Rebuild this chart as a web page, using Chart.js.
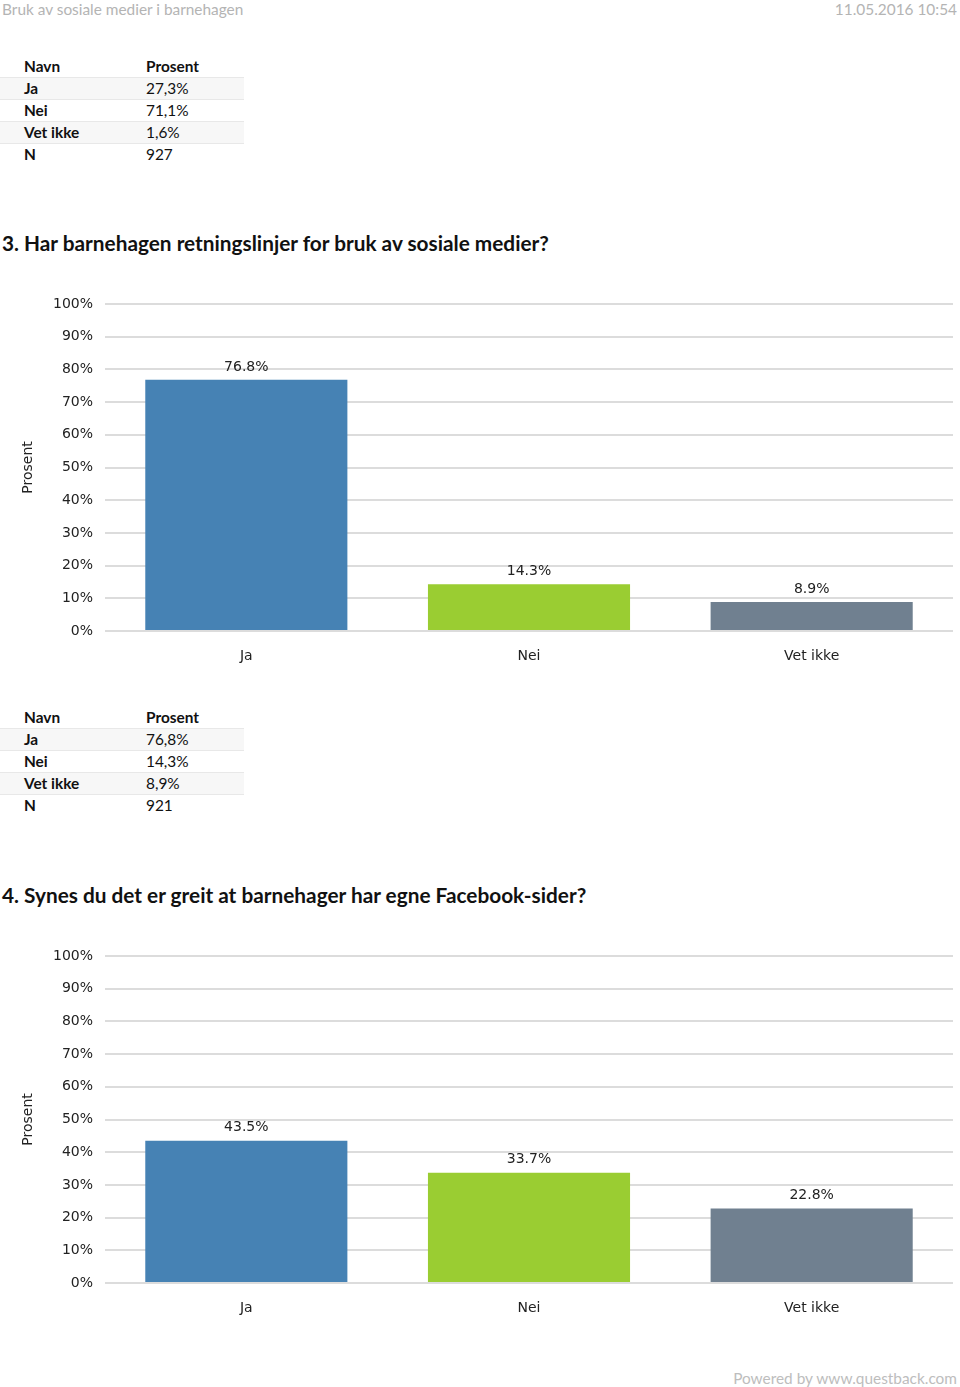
<!DOCTYPE html>
<html>
<head>
<meta charset="utf-8">
<script src="https://cdn.jsdelivr.net/npm/chart.js@4.4.1/dist/chart.umd.min.js"></script>
<style>
  html, body { margin: 0; padding: 0; background: #fff; }
  body { width: 960px; height: 1387px; position: relative; overflow: hidden; font-family: Lato, "Open Sans", sans-serif; }
  .top { position: absolute; top: 0; font-size: 15.4px; color: #b4b4b4; line-height: 18px; }
  .foot { position: absolute; top: 1369px; right: 3px; font-size: 15.4px; color: #bdbdbd; }
  table { position: absolute; left: 0; width: 244px; border-collapse: collapse; font-size: 15.4px; color: #111; }
  td { height: 21px; padding: 0; line-height: 21px; }
  td:first-child { padding-left: 24px; width: 122px; font-weight: bold; }
  tr.g td { background: #f7f7f7; }
  tr.b td { border-top: 1px solid #e8e8e8; }
  th { text-align: left; font-weight: bold; height: 22px; padding: 0; }
  th:first-child { padding-left: 24px; }
  h2 { position: absolute; left: 2px; margin: 0; font-size: 20.8px; font-weight: bold; color: #111; white-space: nowrap; }
  .chart { position: absolute; left: 0; width: 960px; height: 395px; }
</style>
</head>
<body>
<div class="top" style="left:2px">Bruk av sosiale medier i barnehagen</div>
<div class="top" style="right:3px">11.05.2016 10:54</div>

<table id="t1" style="top:55px"></table>
<h2 style="top:230px">3. Har barnehagen retningslinjer for bruk av sosiale medier?</h2>
<div class="chart" style="top:280px"><canvas id="c1"></canvas></div>

<table id="t2" style="top:706px"></table>
<h2 style="top:882px">4. Synes du det er greit at barnehager har egne Facebook-sider?</h2>
<div class="chart" style="top:932px"><canvas id="c2"></canvas></div>

<div class="foot">Powered by www.questback.com</div>

<script>
const categories = ["Ja", "Nei", "Vet ikke"];
const q2Percent = ["27,3%", "71,1%", "1,6%"];
const q2N = 927;
const q3Values = [76.8, 14.3, 8.9];
const q3N = 921;
const q4Values = [43.5, 33.7, 22.8];
const barColors = ["#4682b4", "#9acd32", "#708090"];
const yTicks = [0, 10, 20, 30, 40, 50, 60, 70, 80, 90, 100];

function fillTable(id, percents, n) {
  const t = document.getElementById(id);
  let html = "<tr><th>Navn</th><th>Prosent</th></tr>";
  categories.forEach((c, i) => {
    html += `<tr class="b${i % 2 === 0 ? " g" : ""}"><td>${c}</td><td>${percents[i]}</td></tr>`;
  });
  html += `<tr class="b"><td>N</td><td>${n}</td></tr>`;
  t.innerHTML = html;
}
fillTable("t1", q2Percent, q2N);
fillTable("t2", q3Values.map(v => v.toFixed(1).replace(".", ",") + "%"), q3N);

// value labels above bars
const valueLabels = {
  id: "valueLabels",
  afterDatasetsDraw(chart) {
    const ctx = chart.ctx;
    ctx.save();
    ctx.font = "14px 'DejaVu Sans'";
    ctx.fillStyle = "#222";
    ctx.textAlign = "center";
    ctx.textBaseline = "bottom";
    chart.getDatasetMeta(0).data.forEach((bar, i) => {
      const v = chart.data.datasets[0].data[i];
      ctx.fillText(v.toFixed(1) + "%", bar.x, bar.y - 6);
    });
    ctx.restore();
  }
};

function makeChart(id, values) {
  new Chart(document.getElementById(id), {
    type: "bar",
    data: {
      labels: categories,
      datasets: [{
        data: values,
        backgroundColor: barColors,
        borderWidth: 0,
        categoryPercentage: 1,
        barPercentage: 0.715
      }]
    },
    options: {
      responsive: true,
      maintainAspectRatio: false,
      animation: false,
      layout: { padding: { top: 24, right: 7, left: 0, bottom: 0 } },
      plugins: { legend: { display: false }, tooltip: { enabled: false } },
      scales: {
        x: {
          grid: { display: false, drawTicks: false },
          border: { display: false },
          ticks: { color: "#222", font: { family: "DejaVu Sans", size: 14 }, padding: 17 },
          afterFit: s => { s.height = 44; }
        },
        y: {
          min: 0, max: 100,
          afterBuildTicks: s => { s.ticks = yTicks.map(v => ({ value: v })); },
          ticks: {
            color: "#222",
            font: { family: "DejaVu Sans", size: 14 },
            padding: 12,
            callback: v => v + "%"
          },
          grid: { color: "#dcdcdc", lineWidth: 2, drawTicks: false },
          border: { display: false },
          title: {
            display: true, text: "Prosent", color: "#222",
            font: { family: "DejaVu Sans", size: 14 },
            padding: { top: 20, bottom: 4 }
          },
          afterFit: s => { s.width = 105; }
        }
      }
    },
    plugins: [valueLabels]
  });
}
makeChart("c1", q3Values);
makeChart("c2", q4Values);
</script>
</body>
</html>
